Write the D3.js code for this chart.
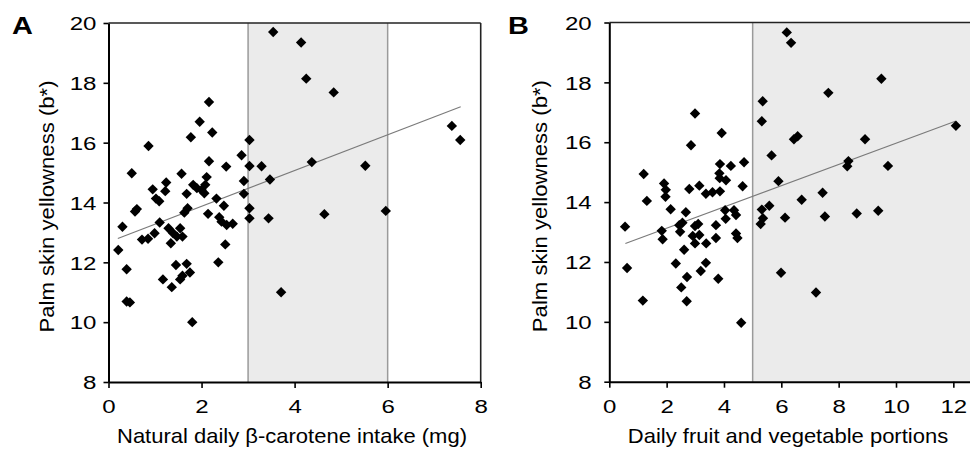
<!DOCTYPE html>
<html>
<head>
<meta charset="utf-8">
<script src="https://cdn.jsdelivr.net/npm/d3@7"></script>
<style>
  html, body { margin: 0; padding: 0; background: #fff; }
  svg { display: block; }
  text { font-family: "Liberation Sans", Arial, sans-serif; fill: #000; }
</style>
</head>
<body>
<svg id="chart" width="970" height="449"></svg>
<script>
// ---------- DATA ----------
const yTicks = [8, 10, 12, 14, 16, 18, 20];
const xTicksA = [0, 2, 4, 6, 8];
const xTicksB = [0, 2, 4, 6, 8, 10, 12];

const panelLabels = ["A", "B"];
const xTitles = ["Natural daily \u03B2-carotene intake (mg)", "Daily fruit and vegetable portions"];
const yTitle = "Palm skin yellowness (b*)";

// Panel A: natural daily beta-carotene intake (mg) vs palm skin yellowness
const intakeA = [0.21,0.30,0.39,0.39,0.46,0.50,0.57,0.61,0.72,0.85,0.86,0.95,0.99,1.02,1.09,1.10,1.17,1.22,1.24,1.29,
  1.34,1.36,1.39,1.45,1.47,1.54,1.54,1.57,1.59,1.59,1.63,1.68,1.68,1.70,1.75,1.77,1.80,1.82,1.90,1.96,
  2.00,2.06,2.08,2.11,2.16,2.16,2.14,2.23,2.32,2.36,2.38,2.43,2.48,2.51,2.53,2.54,2.67,2.86,2.91,2.91,
  3.03,3.03,3.03,3.03,3.29,3.44,3.47,3.54,3.71,4.14,4.25,4.37,4.64,4.84,5.52,5.96,7.38,7.56];
const yellowA = [12.41,13.19,11.77,10.69,10.66,14.98,13.70,13.78,12.76,12.79,15.89,14.44,12.97,14.13,14.04,13.33,11.43,14.38,14.67,13.14,
  12.64,11.17,12.97,11.91,12.86,13.14,11.43,14.96,12.86,11.55,13.66,14.29,11.95,13.81,11.66,16.18,10.00,14.59,14.48,16.70,
  14.42,14.31,14.59,14.85,17.36,15.38,13.62,16.34,14.13,12.00,13.51,13.36,13.89,12.60,15.20,13.25,13.29,15.58,14.72,14.29,
  16.09,15.22,13.81,13.47,15.21,13.47,14.77,19.70,11.00,19.35,18.14,15.35,13.61,17.68,15.23,13.72,16.56,16.09];

// Panel B: daily fruit and vegetable portions vs palm skin yellowness
const portionsB = [0.55,0.62,1.17,1.20,1.31,1.83,1.86,1.91,1.97,1.96,2.14,2.32,2.44,2.47,2.55,2.61,2.51,2.67,2.71,2.70,
  2.79,2.85,2.91,2.99,2.99,3.10,2.99,3.14,3.14,3.19,3.37,3.38,3.37,3.60,3.72,3.72,3.80,3.86,3.86,3.84,
  3.85,3.92,4.04,4.06,4.07,4.24,4.35,4.42,4.42,4.47,4.60,4.65,4.70,5.28,5.36,5.32,5.58,5.90,5.66,5.32,
  5.35,5.99,6.13,6.19,6.34,6.44,6.57,6.71,7.21,7.44,7.52,7.64,8.30,8.34,8.63,8.92,9.38,9.49,9.72,12.09];
const yellowB = [13.18,11.80,10.71,14.94,14.04,13.04,12.76,14.62,14.41,14.18,13.76,11.95,13.23,13.01,13.31,12.41,11.15,13.66,11.50,10.69,
  14.44,15.90,12.87,16.96,13.20,13.27,12.62,12.90,14.55,11.70,11.97,12.62,14.28,14.33,13.23,12.80,11.44,14.36,15.27,14.96,
  14.80,16.31,13.73,13.44,14.73,15.21,13.73,13.57,12.95,12.80,9.97,14.53,15.33,13.27,13.46,13.75,13.88,14.70,15.56,16.70,
  17.37,11.64,13.48,19.67,19.32,16.10,16.20,14.08,10.98,14.31,13.52,17.65,15.20,15.37,13.62,16.10,13.71,18.12,15.21,16.55];

// Regression line end points (x, y)
const fitAx = [0.20, 7.57], fitAy = [12.80, 17.20];
const fitBx = [0.56, 12.07], fitBy = [12.62, 16.70];

// Shaded ranges on x
const bandA = [3, 6];
const bandB = [5, 14];

// ---------- DRAW ----------
const svg = d3.select("#chart");

function drawPanel(o) {
  const x = d3.scaleLinear().domain(o.xDomain).range([o.left, o.right]);
  const y = d3.scaleLinear().domain([8, 20]).range([o.bottom, o.top]);
  const g = svg.append("g");

  // shaded band
  g.append("rect")
    .attr("x", x(o.band[0])).attr("y", y(20))
    .attr("width", x(o.band[1]) - x(o.band[0]))
    .attr("height", y(8) - y(20))
    .attr("fill", "#ebebeb");
  o.band.forEach(v => {
    g.append("line")
      .attr("x1", x(v)).attr("x2", x(v))
      .attr("y1", y(20)).attr("y2", y(8))
      .attr("stroke", "#9a9a9a").attr("stroke-width", 1.5);
  });

  // regression line
  g.append("line")
    .attr("x1", x(o.fitX[0])).attr("y1", y(o.fitY[0]))
    .attr("x2", x(o.fitX[1])).attr("y2", y(o.fitY[1]))
    .attr("stroke", "#7a7a7a").attr("stroke-width", 1.1);

  // points
  const sym = d3.symbol().type(d3.symbolSquare).size(54);
  g.selectAll("path.pt").data(o.xs.map((v, i) => [v, o.ys[i]]))
    .enter().append("path").attr("class", "pt")
    .attr("d", sym)
    .attr("transform", d => `translate(${x(d[0])},${y(d[1])}) rotate(45)`)
    .attr("fill", "#000");

  // frame top/right
  g.append("line").attr("x1", x(o.xDomain[0])).attr("x2", x(o.xDomain[1]))
    .attr("y1", y(20)).attr("y2", y(20)).attr("stroke", "#222").attr("stroke-width", 1.6);
  g.append("line").attr("x1", x(o.xDomain[1])).attr("x2", x(o.xDomain[1]))
    .attr("y1", y(20)).attr("y2", y(8)).attr("stroke", "#222").attr("stroke-width", 1.6);

  // axes
  const sx = 1.3;
  const ya = g.append("g").attr("transform", `translate(${o.left},0)`)
    .call(d3.axisLeft(y).tickValues(yTicks).tickSize(5).tickSizeOuter(0).tickFormat(d3.format("d")));
  ya.select(".domain").attr("stroke", "#000").attr("stroke-width", 2);
  ya.selectAll(".tick line").attr("stroke", "#000").attr("stroke-width", 1.6);
  ya.selectAll(".tick text")
    .attr("font-family", "Liberation Sans, Arial, sans-serif")
    .attr("font-size", 18.5)
    .attr("x", -o.yLabelGap / sx)
    .attr("dy", "0.36em")
    .attr("transform", `scale(${sx},1)`);

  const xa = g.append("g").attr("transform", `translate(0,${o.bottom})`)
    .call(d3.axisBottom(x).tickValues(o.xTicks).tickSize(6).tickSizeOuter(0).tickFormat(d3.format("d")));
  xa.select(".domain").attr("stroke", "#000").attr("stroke-width", 2);
  xa.selectAll(".tick line").attr("stroke", "#000").attr("stroke-width", 1.6);
  xa.selectAll(".tick").each(function (d) {
    d3.select(this).select("text")
      .attr("font-family", "Liberation Sans, Arial, sans-serif")
      .attr("font-size", 18.5)
      .attr("y", 18)
      .attr("dy", "0.71em")
      .attr("transform", `scale(${sx},1)`)
      .attr("x", 0);
    // compensate the transform for tick group translation
    const tr = d3.select(this).attr("transform");
    const m = /translate\(([-\d.]+),/.exec(tr);
    const tx = m ? +m[1] : 0;
    d3.select(this).attr("transform", `translate(${tx},0)`);
  });

  // axis titles
  g.append("text")
    .attr("transform", `translate(${o.yTitleX},${(o.top + o.bottom) / 2 + 4}) rotate(-90) scale(1.08,1)`)
    .attr("text-anchor", "middle")
    .attr("font-size", 20.5)
    .text(yTitle);
  g.append("text")
    .attr("transform", `translate(${o.xTitleX},443) scale(1.1,1)`)
    .attr("text-anchor", "middle")
    .attr("font-size", 20)
    .text(o.xTitle);

  // panel letter
  g.append("text")
    .attr("transform", `translate(${o.letterX},34) scale(1.18,1)`)
    .attr("font-size", 24.5).attr("font-weight", "bold")
    .text(o.letter);
}

drawPanel({
  left: 108.5, right: 480.7, top: 23, bottom: 382,
  xDomain: [0, 8], xTicks: xTicksA, band: bandA,
  fitX: fitAx, fitY: fitAy, xs: intakeA, ys: yellowA,
  yLabelGap: 12, yTitleX: 53.5, xTitleX: 292, xTitle: xTitles[0],
  letter: panelLabels[0], letterX: 12
});

drawPanel({
  left: 609.3, right: 609.3 + 14 * 28.67, top: 22.5, bottom: 381.7,
  xDomain: [0, 14], xTicks: xTicksB, band: bandB,
  fitX: fitBx, fitY: fitBy, xs: portionsB, ys: yellowB,
  yLabelGap: 17.6, yTitleX: 547, xTitleX: 788, xTitle: xTitles[1],
  letter: panelLabels[1], letterX: 508
});
</script>
</body>
</html>
